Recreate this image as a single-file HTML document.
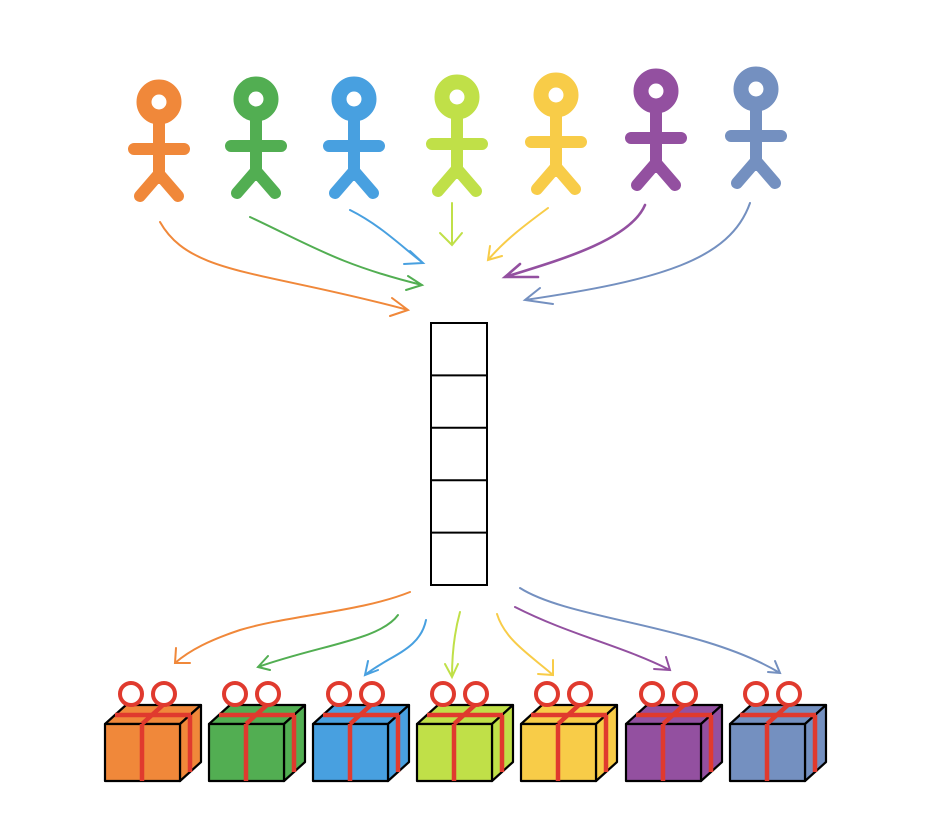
<!DOCTYPE html>
<html><head><meta charset="utf-8"><style>html,body{margin:0;padding:0;background:#fff}svg{display:block}</style></head>
<body>
<svg width="942" height="820" viewBox="0 0 942 820" xmlns="http://www.w3.org/2000/svg">
<defs>
<g id="man" fill="none" stroke-linecap="round" stroke-linejoin="round">
  <circle cx="0" cy="0" r="15" stroke-width="15"/>
  <path d="M0 22 V76 M-25 47 H25 M0 72 L-19 94 M0 72 L19 94" stroke-width="12"/>
</g>
<g id="giftshape" stroke="#000" stroke-width="2.2" stroke-linejoin="round">
  <path d="M0 19 L21 0 H96 L75 19 Z" />
  <path d="M75 19 L96 0 V57 L75 76 Z" />
  <rect x="0" y="19" width="75" height="57"/>
</g>
<g id="ribbon" fill="none" stroke="#e03a2e" stroke-width="4.5">
  <path d="M37 19 V76 M37 19 L58 0 M10 10 L86 10 M85 10 V67"/>
  <circle cx="26" cy="-11" r="11" stroke-width="4"/>
  <circle cx="59" cy="-11" r="11" stroke-width="4"/>
</g>
</defs>

<!-- people -->
<use href="#man" x="159" y="102" stroke="#f0883a"/>
<use href="#man" x="256" y="99" stroke="#52ae52"/>
<use href="#man" x="354" y="99" stroke="#48a0e0"/>
<use href="#man" x="457" y="97" stroke="#c0e048"/>
<use href="#man" x="556" y="95" stroke="#f8cc48"/>
<use href="#man" x="656" y="91" stroke="#9350a0"/>
<use href="#man" x="756" y="89" stroke="#7490c0"/>

<!-- top arrows -->
<g fill="none" stroke-width="2" stroke-linecap="round">
<path d="M160 222 C190 275 260 270 408 310 M392 298 L408 310 L390 316" stroke="#f0883a"/>
<path d="M250 217 C310 245 340 265 422 285 M408 276 L422 285 L406 290" stroke="#52ae52"/>
<path d="M350 210 C380 225 400 245 423 263 M410 251 L423 263 L404 264" stroke="#48a0e0"/>
<path d="M452 203 V245 M440 233 L452 245 L462 233" stroke="#c0e048"/>
<path d="M548 208 C525 225 505 240 488 260 M490 246 L488 260 L502 256" stroke="#f8cc48"/>
<path d="M645 205 C630 240 560 260 505 277 M520 264 L505 277 L538 277" stroke="#9350a0" stroke-width="2.6"/>
<path d="M750 203 C730 260 660 280 525 300 M540 288 L525 300 L553 304" stroke="#7490c0"/>
</g>

<!-- stack -->
<g fill="none" stroke="#000" stroke-width="2">
<rect x="431" y="323" width="56" height="262"/>
<path d="M431 375.4H487M431 427.8H487M431 480.2H487M431 532.6H487"/>
</g>

<!-- bottom arrows -->
<g fill="none" stroke-width="2" stroke-linecap="round">
<path d="M410 592 C360 612 290 615 240 630 C210 640 190 650 175 663 M176 648 L175 663 L190 663" stroke="#f0883a"/>
<path d="M398 615 C380 640 320 645 258 667 M268 656 L258 667 L270 670" stroke="#52ae52"/>
<path d="M426 620 C420 650 390 655 365 675 M368 661 L365 675 L378 670" stroke="#48a0e0"/>
<path d="M460 612 C455 630 452 650 452 677 M445 664 L452 677 L458 664" stroke="#c0e048"/>
<path d="M497 614 C505 640 530 655 553 675 M553 660 L553 675 L538 674" stroke="#f8cc48"/>
<path d="M515 607 C570 635 620 645 670 670 M666 657 L670 670 L654 669" stroke="#9350a0"/>
<path d="M520 588 C570 620 700 625 780 673 M775 661 L780 673 L768 672" stroke="#7490c0"/>
</g>

<!-- gifts -->
<g transform="translate(105,705)" fill="#f0883a"><use href="#giftshape"/><use href="#ribbon"/></g>
<g transform="translate(209,705)" fill="#52ae52"><use href="#giftshape"/><use href="#ribbon"/></g>
<g transform="translate(313,705)" fill="#48a0e0"><use href="#giftshape"/><use href="#ribbon"/></g>
<g transform="translate(417,705)" fill="#c0e048"><use href="#giftshape"/><use href="#ribbon"/></g>
<g transform="translate(521,705)" fill="#f8cc48"><use href="#giftshape"/><use href="#ribbon"/></g>
<g transform="translate(626,705)" fill="#9350a0"><use href="#giftshape"/><use href="#ribbon"/></g>
<g transform="translate(730,705)" fill="#7490c0"><use href="#giftshape"/><use href="#ribbon"/></g>
</svg>
</body></html>
